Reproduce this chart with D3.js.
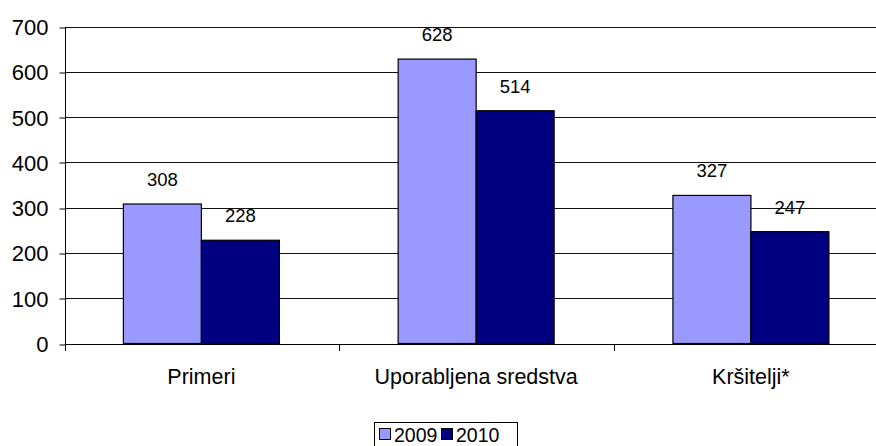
<!DOCTYPE html>
<html><head><meta charset="utf-8">
<script src="https://cdn.jsdelivr.net/npm/d3@7"></script>
<style>body{margin:0;background:#fff}svg{display:block;font-family:"Liberation Sans",Arial,sans-serif}</style>
</head><body><svg id="c" width="876" height="446"></svg>
<script>
const categories = ["Primeri", "Uporabljena sredstva", "Kršitelji*"];
const seriesNames = ["2009", "2010"];
const values2009 = [308, 628, 327];
const values2010 = [228, 514, 247];
const yTicks = [0, 100, 200, 300, 400, 500, 600, 700];
const colors = ["#9999FF", "#000080"];

(function () {
const svg = d3.select("#c");
const W = 876, H = 446;
const mLeft = 64, mRight = 888.3, mTop = 26.5, mBottom = 343.5, axisX = 65;
const y = d3.scaleLinear().domain([0, 700]).range([mBottom, mTop]);
const x0 = d3.scaleBand().domain(categories).range([mLeft, mRight]).padding(0);
const bw = x0.bandwidth();
const barW = 78;
const x1 = d3.scaleBand().domain(seriesNames).range([bw/2 - barW, bw/2 + barW]).padding(0);

// gridlines
svg.append("g").selectAll("line").data(yTicks.filter(d => d > 0)).join("line")
  .attr("x1", axisX).attr("x2", W)
  .attr("y1", d => Math.round(y(d)) + 0.5).attr("y2", d => Math.round(y(d)) + 0.5)
  .attr("stroke", "#111").attr("stroke-width", 1);

// y axis
const yAxis = d3.axisLeft(y).tickValues(yTicks).tickSize(6).tickPadding(10);
const gy = svg.append("g").attr("transform", `translate(${axisX + 0.5},0.5)`).call(yAxis);
gy.select(".domain").attr("stroke", "#000").attr("d", `M0,${Math.round(y(700))}V${Math.round(mBottom)}`);
gy.selectAll(".tick line").attr("stroke", "#000").attr("transform", d => `translate(0,${Math.round(y(d)) - y(d)})`);
gy.selectAll(".tick text").attr("font-size", 22).attr("fill", "#000")
  .attr("font-family", "Liberation Sans, Arial, sans-serif").attr("dy", "0.34em").attr("x", -17);

// bars
const data = categories.map((c, i) => ({cat: c, vals: [values2009[i], values2010[i]]}));
const groups = svg.append("g").selectAll("g").data(data).join("g")
  .attr("transform", d => `translate(${x0(d.cat)},0)`);
groups.selectAll("rect").data(d => d.vals.map((v, j) => ({v, s: seriesNames[j], j}))).join("rect")
  .attr("x", d => x1(d.s)).attr("y", d => y(d.v))
  .attr("width", x1.bandwidth()).attr("height", d => y(0) - y(d.v))
  .attr("fill", d => colors[d.j]).attr("stroke", "#000").attr("stroke-width", 1.2);
groups.selectAll("text").data(d => d.vals.map((v, j) => ({v, s: seriesNames[j], j}))).join("text")
  .attr("x", d => x1(d.s) + x1.bandwidth()/2).attr("y", d => y(d.v) - 18)
  .attr("text-anchor", "middle").attr("font-size", 18.5).attr("fill", "#000")
  .text(d => d.v);

// x axis
svg.append("line").attr("x1", axisX).attr("x2", W).attr("y1", Math.round(mBottom) + 0.5).attr("y2", Math.round(mBottom) + 0.5).attr("stroke", "#000");
svg.append("g").selectAll("line").data(categories.slice(1)).join("line")
  .attr("x1", d => Math.round(x0(d)) + 0.5).attr("x2", d => Math.round(x0(d)) + 0.5)
  .attr("y1", Math.round(mBottom)).attr("y2", Math.round(mBottom) + 7).attr("stroke", "#000");
svg.append("line").attr("x1", axisX + 0.5).attr("x2", axisX + 0.5)
  .attr("y1", Math.round(mBottom)).attr("y2", Math.round(mBottom) + 7).attr("stroke", "#000");
svg.append("g").selectAll("text").data(categories).join("text")
  .attr("x", d => x0(d) + bw/2).attr("y", 384)
  .attr("text-anchor", "middle").attr("font-size", 21.5).attr("fill", "#000").text(d => d);

// legend
const lg = svg.append("g");
lg.append("rect").attr("x", 374.5).attr("y", 422.5).attr("width", 143).attr("height", 30)
  .attr("fill", "#fff").attr("stroke", "#000");
const items = [{n: seriesNames[0], c: colors[0], x: 379}, {n: seriesNames[1], c: colors[1], x: 441}];
items.forEach(it => {
  lg.append("rect").attr("x", it.x + 0.5).attr("y", 428.5).attr("width", 11).attr("height", 11)
    .attr("fill", it.c).attr("stroke", "#000");
  lg.append("text").attr("x", it.x + 15).attr("y", 442).attr("font-size", 19.5).attr("fill", "#000").text(it.n);
});
})();
</script></body></html>
